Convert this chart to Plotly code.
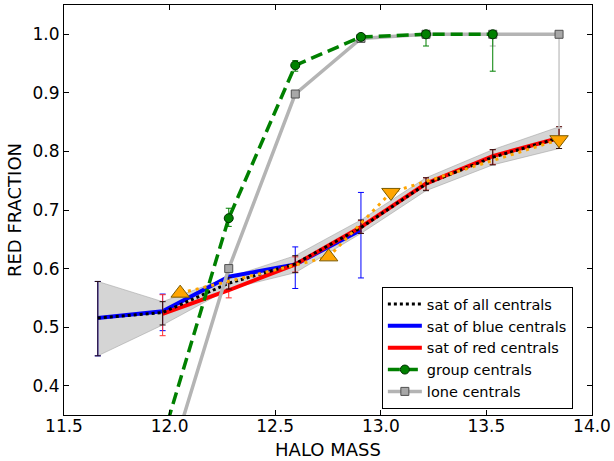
import plotly.graph_objects as go

# ---- data ----
halo_mass = [11.66, 11.967, 12.28, 12.595, 12.906, 13.214, 13.53, 13.844]

all_y = [0.5156, 0.525, 0.575, 0.608, 0.670, 0.7445, 0.790, 0.823]
all_hi = [0.578, 0.5435, 0.585, 0.622, 0.683, 0.755, 0.803, 0.842]
all_lo = [0.451, 0.5037, 0.565, 0.593, 0.660, 0.733, 0.777, 0.805]

blue_x = [11.66, 11.967, 12.28, 12.595, 12.906]
blue_y = [0.5156, 0.527, 0.586, 0.607, 0.666]
blue_hi = [0.578, 0.5565, 0.596, 0.637, 0.730]
blue_lo = [0.451, 0.494, 0.576, 0.566, 0.584]

red_x = [11.967, 12.28, 12.595, 12.906, 13.214, 13.53, 13.844]
red_y = [0.5225, 0.563, 0.607, 0.671, 0.745, 0.792, 0.823]
red_hi = [0.5554, 0.576, 0.620, 0.682, 0.755, 0.803, 0.842]
red_lo = [0.4854, 0.550, 0.594, 0.660, 0.734, 0.778, 0.805]

group_x = [11.967, 12.28, 12.595, 12.906, 13.214, 13.53]
group_y = [0.31, 0.686, 0.947, 0.9955, 1.0, 1.0]
group_hi = [0.31, 0.703, 0.955, 1.0, 1.0, 1.0]
group_lo = [0.31, 0.672, 0.937, 0.990, 0.980, 0.937]

lone_x = [11.967, 12.28, 12.595, 12.906, 13.214, 13.53, 13.844]
lone_y = [0.23, 0.600, 0.898, 0.993, 1.0, 1.0, 1.0]
lone_lo = [None, None, None, None, None, 0.980, 0.840]

orange_x = [12.05, 12.753, 13.048, 13.844]
orange_y = [0.558, 0.620, 0.730, 0.820]
orange_up_x = [12.05, 12.753]
orange_up_y = [0.558, 0.620]
orange_dn_x = [13.048, 13.844]
orange_dn_y = [0.730, 0.820]

x_ticks = [11.5, 12.0, 12.5, 13.0, 13.5, 14.0]
y_ticks = [0.4, 0.5, 0.6, 0.7, 0.8, 0.9, 1.0]


def err_plus(y, hi):
    return [None if h is None else h - v for v, h in zip(y, hi)]


def err_minus(y, lo):
    return [None if l is None else v - l for v, l in zip(y, lo)]


fig = go.Figure()

# gray band
fig.add_trace(go.Scatter(
    x=halo_mass + halo_mass[::-1], y=all_hi + all_lo[::-1],
    fill="toself", fillcolor="rgba(185,185,185,0.6)",
    line=dict(width=0.8, color="rgba(160,160,160,0.7)"),
    mode="lines", showlegend=False, hoverinfo="skip"))

# blue
fig.add_trace(go.Scatter(
    x=blue_x, y=blue_y, mode="lines", name="sat of blue centrals",
    line=dict(color="#0000ff", width=4), legendrank=2,
    error_y=dict(type="data", symmetric=False,
                 array=err_plus(blue_y, blue_hi), arrayminus=err_minus(blue_y, blue_lo),
                 color="#0000ff", thickness=1, width=3)))

# red
fig.add_trace(go.Scatter(
    x=red_x, y=red_y, mode="lines", name="sat of red centrals",
    line=dict(color="#ff0000", width=4), legendrank=3,
    error_y=dict(type="data", symmetric=False,
                 array=err_plus(red_y, red_hi), arrayminus=err_minus(red_y, red_lo),
                 color="#ff3030", thickness=1, width=3)))

# all (black dotted)
fig.add_trace(go.Scatter(
    x=halo_mass, y=all_y, mode="lines", name="sat of all centrals",
    line=dict(color="black", width=3, dash="3px,3px"), legendrank=1,
    error_y=dict(type="data", symmetric=False,
                 array=err_plus(all_y, all_hi), arrayminus=err_minus(all_y, all_lo),
                 color="#2a1010", thickness=1, width=3)))

# orange dotted + triangles
fig.add_trace(go.Scatter(
    x=orange_x, y=orange_y, mode="lines", showlegend=False,
    line=dict(color="#ffa500", width=3, dash="3px,5px")))
fig.add_trace(go.Scatter(
    x=orange_up_x, y=orange_up_y, mode="markers", showlegend=False,
    marker=dict(symbol="triangle-up", size=16, color="#ffa500",
                line=dict(color="#7a5a00", width=1))))
fig.add_trace(go.Scatter(
    x=orange_dn_x, y=orange_dn_y, mode="markers", showlegend=False,
    marker=dict(symbol="triangle-down", size=16, color="#ffa500",
                line=dict(color="#7a5a00", width=1))))

# lone centrals
fig.add_trace(go.Scatter(
    x=lone_x, y=lone_y, mode="lines+markers", name="lone centrals",
    line=dict(color="#b4b4b4", width=3.5), legendrank=5,
    marker=dict(symbol="square", size=8, color="#a8a8a8",
                line=dict(color="#505050", width=1)),
    error_y=dict(type="data", symmetric=False,
                 array=[0 if v is not None else None for v in lone_lo],
                 arrayminus=err_minus(lone_y, lone_lo),
                 color="#c8c8c8", thickness=1.5, width=3)))

# group centrals
fig.add_trace(go.Scatter(
    x=group_x, y=group_y, mode="lines+markers", name="group centrals",
    line=dict(color="#008000", width=3.5, dash="12px,6px"), legendrank=4,
    marker=dict(symbol="circle", size=9, color="#008000",
                line=dict(color="#003000", width=1)),
    error_y=dict(type="data", symmetric=False,
                 array=err_plus(group_y, group_hi), arrayminus=err_minus(group_y, group_lo),
                 color="#008000", thickness=1, width=3)))

axis_common = dict(
    showgrid=False, zeroline=False, showline=True, linecolor="black", linewidth=1,
    mirror="allticks", ticks="inside", ticklen=5, tickcolor="black",
    tickfont=dict(family="DejaVu Sans", size=17, color="black"),
    tickformat=".1f", automargin=False)

fig.update_xaxes(range=[11.5, 14.0], tickvals=x_ticks, ticklabelstandoff=-4,
                 title=dict(text="HALO MASS", font=dict(family="DejaVu Sans", size=18, color="black"),
                            standoff=7),
                 **axis_common)
fig.update_yaxes(range=[0.35, 1.05], tickvals=y_ticks,
                 title=dict(text="RED FRACTION", font=dict(family="DejaVu Sans", size=18, color="black"),
                            standoff=6),
                 **axis_common)

fig.update_layout(
    width=614, height=461,
    margin=dict(l=64, r=22, t=5, b=46),
    plot_bgcolor="white", paper_bgcolor="white",
    font=dict(family="DejaVu Sans", color="black"),
    legend=dict(x=0.602, y=0.312, xanchor="left", yanchor="top",
                bgcolor="white", bordercolor="black", borderwidth=1,
                font=dict(family="DejaVu Sans", size=14.5, color="black"),
                tracegroupgap=0, itemwidth=34),
)

fig.write_html("out.html", post_script="document.body.style.margin='0px';",
               config={"displayModeBar": False})
